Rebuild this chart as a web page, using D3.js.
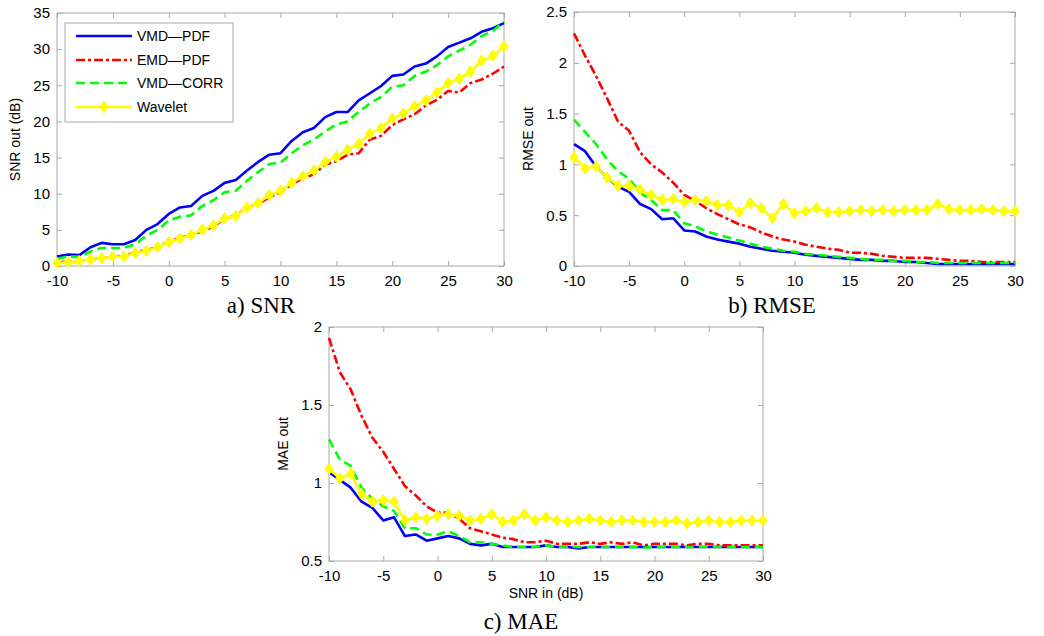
<!DOCTYPE html>
<html><head><meta charset="utf-8">
<script src="https://cdn.jsdelivr.net/npm/d3@7"></script>
<style>body{margin:0;background:#fff}svg{display:block}</style>
</head><body>
<svg id="c" width="1044" height="636"></svg>
<script>
const snrIn = d3.range(-10, 31, 1);
const seriesNames = ["VMD\u2014PDF", "EMD\u2014PDF", "VMD\u2014CORR", "Wavelet"];
const xTicks = [-10, -5, 0, 5, 10, 15, 20, 25, 30];

// a) SNR out (dB)
const snrVmdPdf = [1.3,1.6,1.5,2.6,3.2,3.0,3.0,3.6,5.0,5.8,7.2,8.1,8.3,9.7,10.4,11.5,11.9,13.2,14.4,15.4,15.6,17.3,18.5,19.1,20.6,21.3,21.3,22.9,23.9,24.9,26.3,26.5,27.6,28.0,29.0,30.3,30.9,31.5,32.4,32.9,33.6];
const snrEmdPdf = [0.5,0.6,0.7,0.9,1.1,1.3,1.4,1.9,2.2,2.6,3.4,3.9,4.3,4.8,5.5,6.5,7.0,8.1,8.6,9.5,10.2,11.3,12.1,12.7,14.0,14.5,15.4,15.6,17.5,18.0,19.5,20.3,21.0,22.2,23.0,24.2,24.0,25.3,25.8,26.6,27.6];
const snrVmdCorr = [1.0,1.3,1.3,2.0,2.5,2.5,2.5,3.0,4.2,5.0,6.3,6.8,7.0,8.3,9.1,10.2,10.4,11.8,13.0,14.1,14.3,15.6,16.7,17.5,18.6,19.6,20.0,21.3,22.5,23.4,24.8,25.0,26.3,26.9,27.8,29.0,29.8,30.6,31.8,32.5,33.8];
const snrWavelet = [0.4,0.5,0.7,0.9,1.1,1.3,1.3,1.8,2.1,2.6,3.3,3.8,4.3,5.0,5.6,6.6,6.9,8.1,8.7,9.8,10.4,11.5,12.4,13.2,14.4,15.1,16.1,16.9,18.3,19.1,20.4,21.1,22.1,22.9,24.0,25.3,25.9,26.9,28.4,29.1,30.4];
const snrYTicks = [0, 5, 10, 15, 20, 25, 30, 35];

// b) RMSE out
const rmseVmdPdf = [1.20,1.13,0.98,0.87,0.78,0.73,0.61,0.56,0.46,0.47,0.35,0.34,0.29,0.26,0.24,0.22,0.19,0.17,0.15,0.14,0.13,0.11,0.10,0.09,0.08,0.07,0.06,0.06,0.05,0.05,0.04,0.04,0.03,0.02,0.02,0.02,0.02,0.02,0.02,0.02,0.02];
const rmseEmdPdf = [2.29,2.07,1.87,1.65,1.42,1.33,1.12,1.00,0.92,0.82,0.70,0.64,0.57,0.51,0.46,0.41,0.38,0.33,0.29,0.26,0.24,0.21,0.19,0.17,0.16,0.13,0.13,0.12,0.10,0.09,0.08,0.08,0.08,0.07,0.06,0.05,0.05,0.04,0.04,0.04,0.04];
const rmseVmdCorr = [1.44,1.32,1.20,1.05,0.93,0.86,0.72,0.65,0.55,0.55,0.42,0.39,0.34,0.31,0.28,0.25,0.22,0.19,0.17,0.15,0.14,0.12,0.11,0.10,0.09,0.08,0.07,0.06,0.06,0.05,0.05,0.04,0.04,0.03,0.03,0.03,0.03,0.03,0.03,0.03,0.03];
const rmseWavelet = [1.07,0.96,0.98,0.87,0.79,0.79,0.75,0.70,0.65,0.66,0.63,0.65,0.64,0.60,0.60,0.53,0.62,0.57,0.47,0.61,0.52,0.54,0.57,0.53,0.53,0.54,0.55,0.54,0.55,0.54,0.55,0.55,0.55,0.61,0.56,0.55,0.55,0.56,0.55,0.54,0.54];
const rmseYTicks = [0, 0.5, 1, 1.5, 2, 2.5];

// c) MAE out
const maeVmdPdf = [1.07,1.02,0.97,0.88,0.84,0.76,0.78,0.66,0.67,0.63,0.645,0.66,0.645,0.61,0.60,0.61,0.59,0.59,0.59,0.59,0.60,0.59,0.59,0.58,0.59,0.59,0.59,0.59,0.59,0.59,0.59,0.59,0.59,0.59,0.59,0.59,0.59,0.59,0.59,0.59,0.59];
const maeEmdPdf = [1.93,1.71,1.60,1.43,1.29,1.20,1.09,0.98,0.92,0.85,0.81,0.81,0.77,0.71,0.69,0.67,0.65,0.64,0.62,0.62,0.63,0.61,0.61,0.61,0.62,0.61,0.62,0.61,0.62,0.60,0.61,0.61,0.61,0.60,0.61,0.61,0.60,0.60,0.60,0.60,0.60];
const maeVmdCorr = [1.28,1.15,1.11,0.97,0.90,0.85,0.82,0.71,0.71,0.67,0.67,0.69,0.66,0.62,0.62,0.61,0.60,0.59,0.59,0.59,0.60,0.59,0.59,0.59,0.59,0.59,0.59,0.59,0.59,0.585,0.59,0.59,0.59,0.59,0.59,0.59,0.59,0.59,0.59,0.59,0.59];
const maeWavelet = [1.09,1.03,1.06,0.93,0.88,0.89,0.88,0.76,0.78,0.77,0.79,0.80,0.79,0.76,0.77,0.80,0.75,0.76,0.80,0.76,0.78,0.76,0.75,0.76,0.77,0.76,0.75,0.76,0.76,0.75,0.75,0.75,0.76,0.74,0.75,0.76,0.75,0.75,0.76,0.76,0.76];
const maeYTicks = [0.5, 1, 1.5, 2];

const colors = ["#0000ff", "#ff0000", "#00ff00", "#ffff00"];
const dashes = [null, "9,3,3,3", "9,5", null];

const svg = d3.select("#c");
const sans = "'Liberation Sans', Arial, sans-serif";
const serif = "'Liberation Serif', 'Times New Roman', serif";
const diamond = "M0,-5.5L4.2,0L0,5.5L-4.2,0Z";

function panel(cfg) {
  const x = d3.scaleLinear().domain([-10, 30]).range([cfg.left, cfg.right]);
  const y = d3.scaleLinear().domain(cfg.yDomain).range([cfg.bottom, cfg.top]);
  const g = svg.append("g");
  const grey = "#a8a8a8";
  g.append("rect").attr("x", cfg.left).attr("y", cfg.top)
    .attr("width", cfg.right - cfg.left).attr("height", cfg.bottom - cfg.top)
    .attr("fill", "none").attr("stroke", grey).attr("stroke-width", 1);
  const tl = 5;
  const fmt = d => String(d);
  const xb = g.append("g").attr("transform", `translate(0,${cfg.bottom})`)
    .call(d3.axisBottom(x).tickValues(xTicks).tickSize(-tl).tickFormat(fmt).tickPadding(9));
  const xt = g.append("g").attr("transform", `translate(0,${cfg.top})`)
    .call(d3.axisTop(x).tickValues(xTicks).tickSize(-tl).tickFormat(""));
  const yl = g.append("g").attr("transform", `translate(${cfg.left},0)`)
    .call(d3.axisLeft(y).tickValues(cfg.yTicks).tickSize(-tl).tickFormat(fmt).tickPadding(7));
  const yr = g.append("g").attr("transform", `translate(${cfg.right},0)`)
    .call(d3.axisRight(y).tickValues(cfg.yTicks).tickSize(-tl).tickFormat(""));
  [xb, xt, yl, yr].forEach(a => {
    a.select(".domain").remove();
    a.selectAll(".tick line").attr("stroke", grey);
    a.selectAll(".tick text").attr("fill", "#000").attr("font-family", sans).attr("font-size", 15);
  });
  xb.selectAll(".tick text").attr("dy", "0.71em");
  g.append("text").attr("transform", `translate(${cfg.ylabX},${(cfg.top + cfg.bottom) / 2}) rotate(-90)`)
    .attr("text-anchor", "middle").attr("font-family", sans).attr("font-size", 14).text(cfg.ylabel);
  if (cfg.xlabel) {
    g.append("text").attr("x", (cfg.left + cfg.right) / 2).attr("y", cfg.bottom + 37)
      .attr("text-anchor", "middle").attr("font-family", sans).attr("font-size", 14).text(cfg.xlabel);
  }
  g.append("text").attr("x", cfg.capX).attr("y", cfg.capY).attr("text-anchor", "middle")
    .attr("font-family", serif).attr("font-size", 23).text(cfg.caption);
  const line = d3.line().x((d, i) => x(snrIn[i])).y(d => y(d));
  cfg.series.forEach((s, k) => {
    g.append("path").datum(s).attr("d", line).attr("fill", "none")
      .attr("stroke", colors[k]).attr("stroke-width", 2.6)
      .attr("stroke-dasharray", dashes[k]).attr("stroke-linejoin", "round");
  });
  g.append("g").selectAll("path").data(cfg.series[3]).join("path")
    .attr("d", diamond).attr("fill", colors[3]).attr("stroke", colors[3]).attr("stroke-width", 1)
    .attr("transform", (d, i) => `translate(${x(snrIn[i])},${y(d)})`);
  return g;
}

const pa = panel({left: 57, right: 504, top: 13, bottom: 266, yDomain: [0, 35], yTicks: snrYTicks,
  ylabel: "SNR out (dB)", ylabX: 20, caption: "a) SNR", capX: 261, capY: 313,
  series: [snrVmdPdf, snrEmdPdf, snrVmdCorr, snrWavelet]});
panel({left: 574, right: 1015, top: 12, bottom: 266, yDomain: [0, 2.5], yTicks: rmseYTicks,
  ylabel: "RMSE out", ylabX: 533, caption: "b) RMSE", capX: 772, capY: 313,
  series: [rmseVmdPdf, rmseEmdPdf, rmseVmdCorr, rmseWavelet]});
panel({left: 329, right: 763, top: 327, bottom: 561, yDomain: [0.5, 2], yTicks: maeYTicks,
  ylabel: "MAE out", ylabX: 288, xlabel: "SNR in (dB)", caption: "c) MAE", capX: 521, capY: 629,
  series: [maeVmdPdf, maeEmdPdf, maeVmdCorr, maeWavelet]});

const lg = pa.append("g");
lg.append("rect").attr("x", 65).attr("y", 23).attr("width", 168).attr("height", 99)
  .attr("fill", "#fff").attr("stroke", "#a8a8a8").attr("stroke-width", 1);
const rowY = [36, 60, 83, 107];
seriesNames.forEach((n, k) => {
  lg.append("line").attr("x1", 76).attr("x2", 132).attr("y1", rowY[k]).attr("y2", rowY[k])
    .attr("stroke", colors[k]).attr("stroke-width", 2.6).attr("stroke-dasharray", dashes[k]);
  if (k === 3) {
    lg.append("path").attr("d", diamond).attr("fill", colors[3]).attr("stroke", colors[3])
      .attr("transform", `translate(104,${rowY[k]})`);
  }
  lg.append("text").attr("x", 137).attr("y", rowY[k] + 5).attr("font-family", sans)
    .attr("font-size", 14).text(n);
});
</script>
</body></html>
